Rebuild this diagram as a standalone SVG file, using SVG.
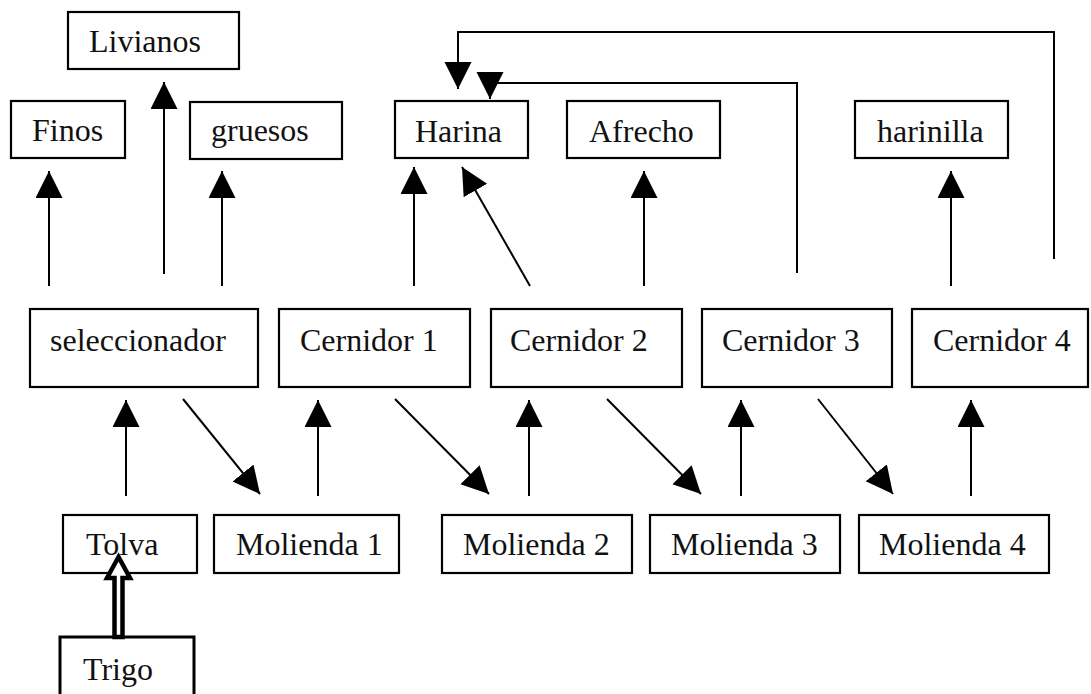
<svg xmlns="http://www.w3.org/2000/svg" width="1091" height="694" viewBox="0 0 1091 694">
<style>
.box{fill:#fff;stroke:#000;stroke-width:2.2}
.lbl{font-family:"Liberation Serif","Times New Roman",serif;font-size:32px;fill:#111}
.c{fill:none;stroke:#000;stroke-width:2}
.a{fill:none;stroke:#000;stroke-width:2;marker-end:url(#ah)}
</style>
<defs>
<marker id="ah" markerUnits="userSpaceOnUse" markerWidth="28" markerHeight="28" refX="27" refY="13.5" orient="auto" viewBox="0 0 28 28">
<path d="M0,0 L27,13.5 L0,27 z" fill="#000"/>
</marker>
</defs>
<rect width="1091" height="694" fill="#fff"/>
<g id="livianos"><rect class="box" x="68" y="12" width="171" height="57"/><text class="lbl" x="89" y="52">Livianos</text></g>
<g id="finos"><rect class="box" x="11" y="101" width="114" height="57"/><text class="lbl" x="32" y="141">Finos</text></g>
<g id="gruesos"><rect class="box" x="190" y="102" width="152" height="57"/><text class="lbl" x="211" y="141">gruesos</text></g>
<g id="harina"><rect class="box" x="395" y="101" width="133" height="57"/><text class="lbl" x="415" y="142">Harina</text></g>
<g id="afrecho"><rect class="box" x="567" y="101" width="153" height="57"/><text class="lbl" x="589" y="142">Afrecho</text></g>
<g id="harinilla"><rect class="box" x="855" y="101" width="153" height="57"/><text class="lbl" x="877" y="142">harinilla</text></g>
<g id="seleccionador"><rect class="box" x="30" y="309" width="228" height="78"/><text class="lbl" x="50" y="351">seleccionador</text></g>
<g id="cernidor1"><rect class="box" x="279" y="309" width="191" height="78"/><text class="lbl" x="300" y="351">Cernidor 1</text></g>
<g id="cernidor2"><rect class="box" x="491" y="309" width="191" height="78"/><text class="lbl" x="510" y="351">Cernidor 2</text></g>
<g id="cernidor3"><rect class="box" x="702" y="309" width="190" height="78"/><text class="lbl" x="722" y="351">Cernidor 3</text></g>
<g id="cernidor4"><rect class="box" x="912" y="309" width="176" height="78"/><text class="lbl" x="933" y="351">Cernidor 4</text></g>
<g id="tolva"><rect class="box" x="63" y="515" width="134" height="58"/><text class="lbl" x="86" y="555">Tolva</text></g>
<g id="molienda1"><rect class="box" x="214" y="515" width="185" height="58"/><text class="lbl" x="236" y="555">Molienda 1</text></g>
<g id="molienda2"><rect class="box" x="442" y="515" width="190" height="58"/><text class="lbl" x="463" y="555">Molienda 2</text></g>
<g id="molienda3"><rect class="box" x="650" y="515" width="190" height="58"/><text class="lbl" x="671" y="555">Molienda 3</text></g>
<g id="molienda4"><rect class="box" x="859" y="515" width="190" height="58"/><text class="lbl" x="879" y="555">Molienda 4</text></g>
<g id="trigo"><rect class="box" x="60" y="637" width="134" height="70" style="stroke-width:3"/><text class="lbl" x="83" y="680">Trigo</text></g>
<g id="connectors">
<line class="a" x1="49" y1="286" x2="49" y2="171"/>
<line class="a" x1="164" y1="274" x2="164" y2="82"/>
<line class="a" x1="222" y1="286" x2="222" y2="171"/>
<line class="a" x1="414" y1="286" x2="414" y2="167"/>
<line class="a" x1="530" y1="286" x2="462" y2="167"/>
<line class="a" x1="644" y1="286" x2="644" y2="171"/>
<line class="a" x1="951" y1="286" x2="951" y2="171"/>
<path class="a" d="M797,273 V83 H490 V99"/>
<path class="a" d="M1054,259 V32 H458 V89"/>
<line class="a" x1="126" y1="496" x2="126" y2="400"/>
<line class="a" x1="318" y1="496" x2="318" y2="400"/>
<line class="a" x1="529" y1="496" x2="529" y2="400"/>
<line class="a" x1="741" y1="496" x2="741" y2="400"/>
<line class="a" x1="971" y1="496" x2="971" y2="400"/>
<line class="a" x1="183" y1="399" x2="260" y2="494"/>
<line class="a" x1="395" y1="399" x2="489" y2="494"/>
<line class="a" x1="607" y1="399" x2="701" y2="494"/>
<line class="a" x1="818" y1="399" x2="893" y2="494"/>
<polygon points="118.5,557 107,578 114.5,578 114.5,637 122.5,637 122.5,578 130,578" fill="#fff" stroke="#000" stroke-width="4.5" stroke-linejoin="miter"/>
</g>
</svg>
